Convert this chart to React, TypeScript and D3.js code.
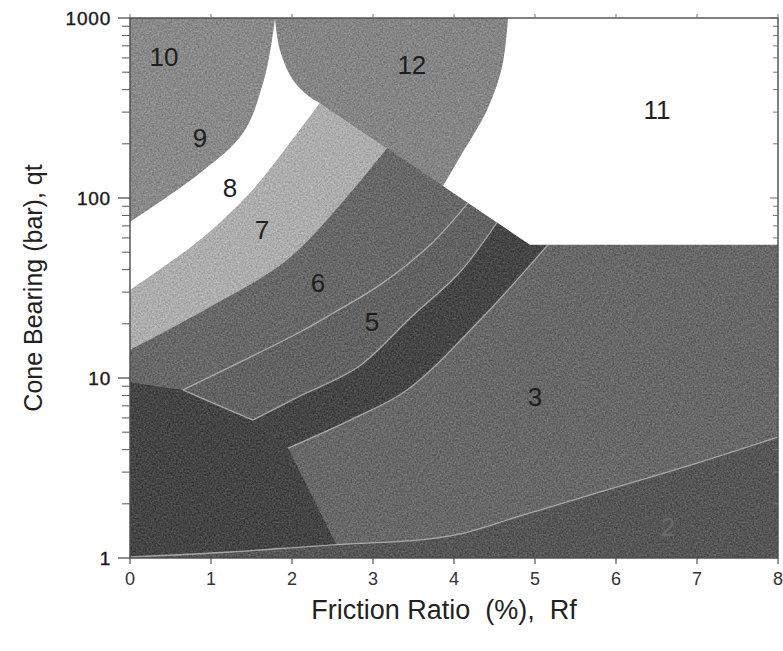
import * as d3 from "d3";

type P = [number, number]; // [Rf %, qt bar]

// zone boundaries
const b98: P[] = [[0, 73.6], [0.864, 137.7], [1.395, 229.6], [1.642, 435], [1.753, 755], [1.79, 1000]];
const b87: P[] = [[0, 30.8], [0.864, 58.4], [1.481, 106.6], [1.938, 192], [2.346, 337]];
const b12L: P[] = [[1.79, 1000], [1.852, 664], [2.012, 453], [2.222, 364], [2.346, 337]];
const b12R: P[] = [[3.864, 116.6], [4.074, 169], [4.407, 308], [4.593, 534], [4.667, 1000]];
const tent: P[] = [[2.346, 337], [3.173, 189], [3.864, 116.6], [4.173, 93.9], [4.531, 73.1], [4.938, 55]];
const b76: P[] = [[0, 14.3], [0.988, 24.8], [1.938, 45.3], [2.593, 91.5], [3.173, 189]];
const b65: P[] = [[0.654, 8.58], [2.099, 18.0], [2.506, 22.9], [3.086, 32.9], [3.704, 54.8], [4.173, 93.9]];
const b54: P[] = [[1.519, 5.84], [2.099, 7.94], [2.815, 11.5], [3.457, 21.5], [4.074, 38.8], [4.531, 73.1]];
const b43: P[] = [[1.951, 4.08], [2.716, 5.84], [3.42, 8.58], [4.321, 21.0], [5.16, 55]];
const b1: P[] = [[0, 9.5], [0.654, 8.58], [0.889, 7.7], [1.519, 5.84], [1.951, 4.08], [2.556, 1.166]];
const b23: P[] = [[0, 1.013], [1.235, 1.08], [2.469, 1.18], [3.58, 1.26], [4.074, 1.36], [4.778, 1.69], [5.765, 2.3], [7.0, 3.37], [8, 4.7]];

const zoneNames = ["10", "12", "11", "9", "8", "7", "6", "5", "3", "2"];
const zoneRf = [0.42, 3.48, 6.506, 0.864, 1.235, 1.63, 2.321, 2.988, 5.0, 6.642];
const zoneQt = [607, 548, 308, 215, 113.6, 66.4, 33.7, 20.5, 7.83, 1.49];

const xTicks = [0, 1, 2, 3, 4, 5, 6, 7, 8];
const yTicks = [1, 10, 100, 1000];

const W = 783;
const H = 651;
const x = d3.scaleLinear().domain([0, 8]).range([130, 778]);
const y = d3.scaleLog().domain([1, 1000]).range([558, 18]);

const rev = (a: P[]) => a.slice().reverse();
const smooth = d3.line<P>().x((d) => x(d[0])).y((d) => y(d[1])).curve(d3.curveCatmullRom.alpha(0.5));
const straight = d3.line<P>().x((d) => x(d[0])).y((d) => y(d[1]));

// join several boundary pieces into one closed outline
function outline(parts: [P[], boolean][]) {
  return (
    parts
      .map(([pts, curved], i) => {
        const d = (curved ? smooth(pts) : straight(pts)) || "";
        return i === 0 ? d : d.replace(/^M/, "L");
      })
      .join("") + "Z"
  );
}

const zones = [
  { fill: "#3a3a3a", d: outline([[b1, false], [[[2.556, 1.166], [2.556, 1], [0, 1]], false]]) },
  { fill: "#4f4f4f", d: outline([[b23, true], [[[8, 4.7], [8, 1], [0, 1]], false]]) },
  { fill: "#3b3b3b", d: outline([[b54, true], [tent.slice(4), false], [[[5.16, 55]], false], [rev(b43), true], [rev(b1.slice(3, 5)), false]]) },
  { fill: "#5e5e5e", d: outline([[b65, true], [tent.slice(3, 5), false], [rev(b54), true], [rev(b1.slice(1, 4)), false]]) },
  { fill: "#646464", d: outline([[b76, true], [tent.slice(1, 4), false], [rev(b65), true], [rev(b1.slice(0, 2)), false]]) },
  { fill: "#b8b8b8", d: outline([[b87, true], [tent.slice(0, 2), false], [rev(b76), true]]) },
  { fill: "#8c8c8c", d: outline([[[[0, 1000], [1.79, 1000]], false], [rev(b98), true]]) },
  { fill: "#878787", d: outline([[[[1.79, 1000], [4.667, 1000]], false], [rev(b12R), true], [rev(tent.slice(0, 3)), false], [rev(b12L), true]]) },
];
const whites = [
  outline([[b98, true], [b12L, true], [rev(b87), true]]),
  outline([[[[4.667, 1000], [8, 1000], [8, 55], [4.938, 55]], false], [rev(tent.slice(2)), false], [b12R, true]]),
];
const lightLines = [b65, b54, b43, b23, b1.slice(1, 4)];

const minor: number[] = [];
for (const dec of [1, 10, 100]) for (let k = 2; k <= 9; k++) minor.push(dec * k);

const font = "'Liberation Sans', Arial, sans-serif";

export default function App() {
  const x0 = x(0), x1 = x(8), yTop = y(1000), yBot = y(1);
  return (
    <svg width={W} height={H} style={{ position: "absolute", left: 0, top: 0, background: "#fff" }}>
      <defs>
        <filter id="grain" x="0" y="0" width="100%" height="100%" colorInterpolationFilters="sRGB">
          <feTurbulence type="fractalNoise" baseFrequency="0.55" numOctaves={2} seed={4} />
          <feColorMatrix type="matrix" values="0.33 0.33 0.33 0 0 0.33 0.33 0.33 0 0 0.33 0.33 0.33 0 0 0 0 0 0 1" />
          <feComponentTransfer>
            <feFuncR type="linear" slope={3} intercept={-1} />
            <feFuncG type="linear" slope={3} intercept={-1} />
            <feFuncB type="linear" slope={3} intercept={-1} />
          </feComponentTransfer>
        </filter>
      </defs>
      <rect x={x0} y={yTop} width={x1 - x0} height={yBot - yTop} fill="#646464" />
      {zones.map((z, i) => (
        <path key={i} d={z.d} fill={z.fill} />
      ))}
      <rect x={x0} y={yTop} width={x1 - x0} height={yBot - yTop} fill="#888" filter="url(#grain)" opacity={0.16} />
      {whites.map((d, i) => (
        <path key={i} d={d} fill="#fff" />
      ))}
      {lightLines.map((pts, i) => (
        <path key={i} d={(i === 4 ? straight(pts) : smooth(pts)) || ""} fill="none" stroke="#c4c4c4" strokeWidth={1.3} opacity={0.75} />
      ))}
      {zoneNames.map((n, i) => (
        <text key={n} x={x(zoneRf[i])} y={y(zoneQt[i])} textAnchor="middle" dominantBaseline="central"
          fontFamily={font} fontSize={26} fill={n === "2" ? "#6a6a6a" : "#1e1e1e"}>
          {n}
        </text>
      ))}
      <rect x={x0} y={yTop} width={x1 - x0} height={yBot - yTop} fill="none" stroke="#4a4a4a" strokeWidth={1.4} />
      {yTicks.map((t) => (
        <g key={t}>
          <line x1={x0 - 12} x2={x0} y1={y(t)} y2={y(t)} stroke="#444" strokeWidth={1.2} />
          <line x1={x1 - 8} x2={x1} y1={y(t)} y2={y(t)} stroke="#666" strokeWidth={1} />
          <text x={x0 - 19} y={y(t)} textAnchor="end" dominantBaseline="central" fontFamily={font} fontSize={19}
            letterSpacing={0.8} fill="#1a1a1a" stroke="#1a1a1a" strokeWidth={0.4}>
            {t}
          </text>
        </g>
      ))}
      {minor.map((t) => (
        <g key={t}>
          <line x1={x0 - 8} x2={x0} y1={y(t)} y2={y(t)} stroke="#555" strokeWidth={1} />
          <line x1={x1 - 5} x2={x1} y1={y(t)} y2={y(t)} stroke="#777" strokeWidth={1} />
        </g>
      ))}
      {xTicks.map((t) => (
        <g key={t}>
          <line x1={x(t)} x2={x(t)} y1={yBot} y2={yBot + 6} stroke="#555" strokeWidth={1.2} />
          <line x1={x(t)} x2={x(t)} y1={yTop - 4} y2={yTop} stroke="#777" strokeWidth={1} />
          <text x={x(t)} y={yBot + 21} textAnchor="middle" dominantBaseline="central" fontFamily={font} fontSize={18} fill="#333">
            {t}
          </text>
        </g>
      ))}
      <text x={444} y={610} textAnchor="middle" dominantBaseline="central" fontFamily={font} fontSize={27} fill="#222" xmlSpace="preserve">
        Friction Ratio  (%),  Rf
      </text>
      <text transform={`translate(33,${(yTop + yBot) / 2}) rotate(-90)`} textAnchor="middle" dominantBaseline="central"
        fontFamily={font} fontSize={25} fill="#222">
        Cone Bearing (bar), qt
      </text>
    </svg>
  );
}
